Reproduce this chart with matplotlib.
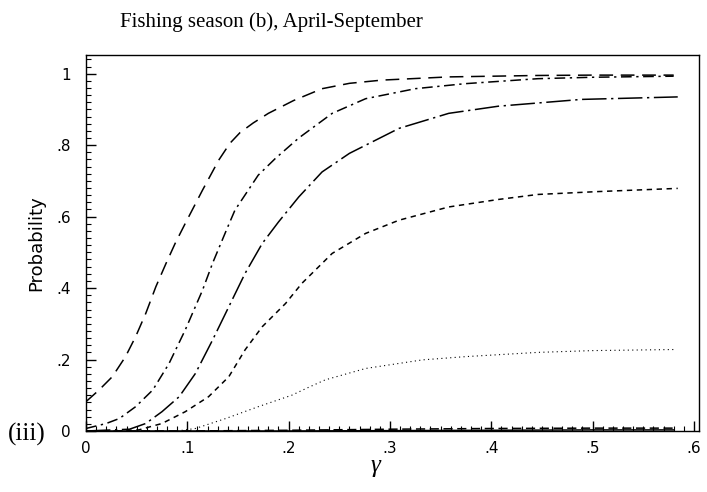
import numpy as np
import matplotlib
matplotlib.use("Agg")
import matplotlib.pyplot as plt
from matplotlib.ticker import MultipleLocator, FuncFormatter

# Data
x1 = [0.0, 0.013, 0.026, 0.039, 0.049, 0.059, 0.069, 0.079, 0.088, 0.098, 0.115, 0.131, 0.142,
      0.152, 0.165, 0.180, 0.205, 0.233, 0.260, 0.292, 0.358, 0.446, 0.50, 0.58]
y1 = [0.082, 0.115, 0.152, 0.208, 0.264, 0.329, 0.404, 0.469, 0.525, 0.581, 0.674, 0.758, 0.805,
      0.835, 0.862, 0.889, 0.925, 0.958, 0.973, 0.982, 0.991, 0.995, 0.996, 0.996]

x2 = [0.0, 0.020, 0.033, 0.049, 0.066, 0.082, 0.098, 0.115, 0.125, 0.139, 0.147, 0.170, 0.187,
      0.210, 0.243, 0.276, 0.325, 0.374, 0.446, 0.50, 0.58]
y2 = [0.007, 0.021, 0.035, 0.068, 0.115, 0.189, 0.283, 0.394, 0.470, 0.565, 0.618, 0.716, 0.763,
      0.820, 0.889, 0.930, 0.958, 0.972, 0.986, 0.990, 0.993]

x3 = [0.0, 0.043, 0.059, 0.075, 0.092, 0.108, 0.125, 0.141, 0.157, 0.174, 0.190, 0.210, 0.233,
      0.260, 0.309, 0.358, 0.407, 0.446, 0.489, 0.584]
y3 = [0.0, 0.005, 0.021, 0.054, 0.096, 0.161, 0.255, 0.348, 0.441, 0.525, 0.585, 0.655, 0.725,
      0.777, 0.847, 0.889, 0.909, 0.918, 0.928, 0.935]

x4 = [0.03, 0.052, 0.075, 0.098, 0.121, 0.141, 0.157, 0.174, 0.197, 0.213, 0.243, 0.276, 0.309,
      0.358, 0.407, 0.446, 0.505, 0.584]
y4 = [0.0, 0.003, 0.021, 0.054, 0.096, 0.152, 0.227, 0.292, 0.357, 0.413, 0.497, 0.553, 0.590,
      0.627, 0.648, 0.662, 0.670, 0.679]

x5 = [0.09, 0.108, 0.138, 0.170, 0.203, 0.218, 0.236, 0.276, 0.332, 0.374, 0.446, 0.50, 0.58]
y5 = [0.0, 0.007, 0.035, 0.068, 0.100, 0.120, 0.143, 0.175, 0.199, 0.208, 0.220, 0.225, 0.228]

x6 = [0.0, 0.1, 0.2, 0.3, 0.4, 0.5, 0.58]
y6 = [0.0, 0.0, 0.002, 0.005, 0.007, 0.008, 0.008]

x7 = [0.0, 0.2, 0.3, 0.4, 0.5, 0.58]
y7 = [0.0, 0.0, 0.001, 0.002, 0.003, 0.003]

xticks = [0, 0.1, 0.2, 0.3, 0.4, 0.5, 0.6]
yticks = [0, 0.2, 0.4, 0.6, 0.8, 1.0]

fig = plt.figure(figsize=(7.07, 4.92), dpi=100)
ax = fig.add_axes([0.1216, 0.124, 0.8671, 0.764])

lw = 1.1
ax.plot(x1, y1, color='black', lw=lw, linestyle=(0, (9, 5)))
ax.plot(x2, y2, color='black', lw=lw, linestyle=(0, (7, 3, 1.5, 3)))
ax.plot(x3, y3, color='black', lw=lw, linestyle=(0, (16, 3, 1.5, 3)))
ax.plot(x4, y4, color='black', lw=lw, linestyle=(0, (3.5, 3)))
ax.plot(x5, y5, color='black', lw=0.8, linestyle=(0, (1, 3)))
ax.plot(x6, y6, color='black', lw=lw, linestyle=(0, (6, 3)))
ax.plot(x7, y7, color='black', lw=lw, linestyle='-')

ax.set_xlim(0, 0.605)
ax.set_ylim(0, 1.052)

fmt = FuncFormatter(lambda v, p: '0' if abs(v) < 1e-9 else ('1' if abs(v - 1) < 1e-9 else ('%.1f' % v).lstrip('0')))
ax.set_xticks(xticks)
ax.set_yticks(yticks)
ax.xaxis.set_major_formatter(fmt)
ax.yaxis.set_major_formatter(fmt)
ax.xaxis.set_minor_locator(MultipleLocator(0.01))
ax.yaxis.set_minor_locator(MultipleLocator(0.02))
ax.tick_params(which='both', direction='in', top=False, right=False, colors='black')
ax.tick_params(which='major', length=7, width=1.0, labelsize=11)
ax.tick_params(which='minor', length=3.5, width=0.8)
ax.tick_params(axis='y', which='major', pad=11)
ax.tick_params(axis='x', which='major', pad=7)
for s in ax.spines.values():
    s.set_linewidth(1.0)

ax.set_ylabel('Probability', fontsize=13, labelpad=8)
fig.text(0.531, 0.052, 'γ', fontsize=18, ha='center', va='center', family='Liberation Serif', style='italic')
fig.text(0.011, 0.117, '(iii)', fontsize=18, ha='left', va='center', family='Liberation Serif')
fig.text(0.17, 0.955, 'Fishing season (b), April-September', fontsize=15, ha='left', va='center', family='Liberation Serif')

fig.savefig('out.png', dpi=100)
